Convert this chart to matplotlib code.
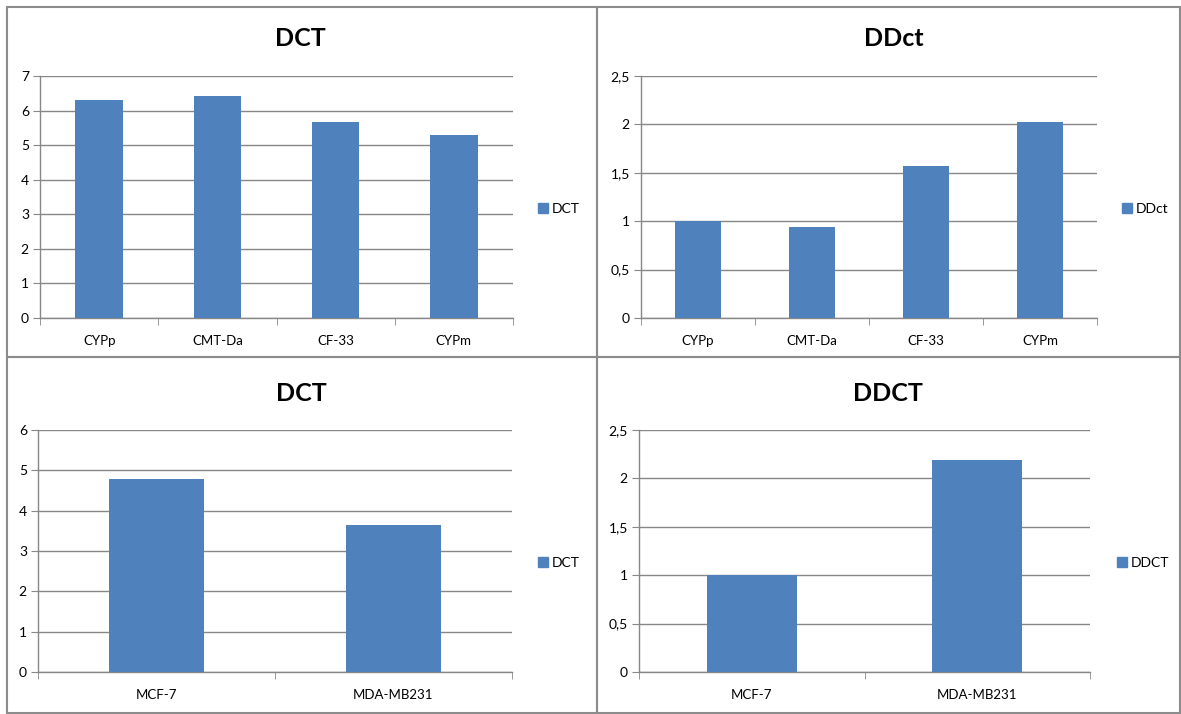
import numpy as np
import matplotlib
matplotlib.use("Agg")
import matplotlib.pyplot as plt
from matplotlib.ticker import FuncFormatter
from matplotlib.patches import Rectangle

# plotting options
plt.rcParams["font.family"] = ["Lato", "DejaVu Sans"]

# canine cell lines
dog_lines = ["CYPp", "CMT-Da", "CF-33", "CYPm"]
dog_dct = [6.31, 6.41, 5.67, 5.28]
dog_ddct = [1.0, 0.94, 1.575, 2.025]

# human cell lines
human_lines = ["MCF-7", "MDA-MB231"]
human_dct = [4.78, 3.65]
human_ddct = [1.0, 2.19]

BAR_BLUE = "#4F81BD"
GRID_GREY = "#878787"
W, H = 1181, 714


def px_rect(x0, y0, x1, y1):
    # pixel box (top-left origin) -> figure fraction rect
    return [x0 / W, 1 - y1 / H, (x1 - x0) / W, (y1 - y0) / H]


def comma_fmt(v, pos):
    return f"{v:g}".replace(".", ",")


def bar_panel(fig, box, cats, vals, ymax, ystep, title, title_xy, leg_xy):
    ax = fig.add_axes(px_rect(*box))
    x = np.arange(len(cats))
    ax.bar(x, vals, width=0.4, color=BAR_BLUE, zorder=3)

    ax.set_xlim(-0.5, len(cats) - 0.5)
    ax.set_ylim(0, ymax)
    ax.set_yticks(np.arange(0, ymax + ystep / 2, ystep))
    ax.yaxis.set_major_formatter(FuncFormatter(comma_fmt))
    ax.yaxis.grid(True, color=GRID_GREY, lw=1.0, zorder=0)

    # category labels centred, tick marks on the boundaries
    ax.set_xticks(x)
    ax.set_xticklabels(cats)
    ax.set_xticks(np.arange(-0.5, len(cats)), minor=True)
    ax.tick_params(axis="x", which="major", length=0, pad=12, labelsize=9.5)
    ax.tick_params(axis="x", which="minor", length=5, color=GRID_GREY, direction="out")
    ax.tick_params(axis="y", length=5, color=GRID_GREY, pad=3, labelsize=10)

    for s in ["top", "right"]:
        ax.spines[s].set_visible(False)
    for s in ["left", "bottom"]:
        ax.spines[s].set_color(GRID_GREY)
        ax.spines[s].set_linewidth(1.0)

    fig.text(title_xy[0] / W, 1 - title_xy[1] / H, title, ha="center", va="center",
             fontsize=18, fontweight="bold")

    ax.legend([Rectangle((0, 0), 1, 1, color=BAR_BLUE)], [title], loc="center left",
              bbox_to_anchor=(leg_xy[0] / W, 1 - leg_xy[1] / H),
              bbox_transform=fig.transFigure, frameon=False, fontsize=10,
              handlelength=0.7, handleheight=0.7, handletextpad=0.3,
              borderpad=0, borderaxespad=0)
    return ax


fig = plt.figure(figsize=(W / 100, H / 100), dpi=100)

# panel frames
for (x0, y0, x1, y1) in [(7, 7, 597, 357), (597, 7, 1180, 357),
                         (7, 357, 597, 713), (597, 357, 1180, 713)]:
    fig.patches.append(Rectangle((x0 / W, 1 - y1 / H), (x1 - x0) / W, (y1 - y0) / H,
                                 transform=fig.transFigure, fill=False,
                                 edgecolor="#8c8c8c", lw=1.5))

bar_panel(fig, (40, 76, 513, 318), dog_lines, dog_dct, 7, 1, "DCT", (300, 38), (538, 209))
bar_panel(fig, (641, 76, 1097, 318), dog_lines, dog_ddct, 2.5, 0.5, "DDct", (894, 38), (1122, 209))
bar_panel(fig, (38, 430, 512, 672), human_lines, human_dct, 6, 1, "DCT", (301, 393), (538, 563))
bar_panel(fig, (639, 430, 1090, 672), human_lines, human_ddct, 2.5, 0.5, "DDCT", (888, 393), (1117, 563))

fig.savefig("out.png", dpi=100)
